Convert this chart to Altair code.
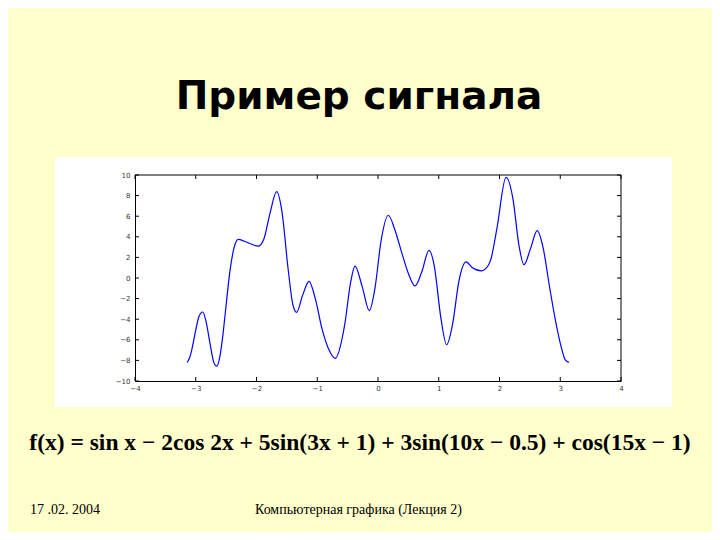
import altair as alt
import pandas as pd

# Signal values (x, f(x))
xs = [-3.1416, -3.10, -3.07, -3.00, -2.95, -2.886, -2.83, -2.77, -2.70, -2.655,
      -2.60, -2.55, -2.50, -2.436, -2.37, -2.30, -2.20, -2.10, -1.97, -1.88,
      -1.78, -1.668, -1.58, -1.48, -1.40, -1.34, -1.24, -1.136, -1.03, -0.92,
      -0.80, -0.705, -0.55, -0.45, -0.379, -0.26, -0.143, -0.05, 0.05, 0.17,
      0.28, 0.40, 0.50, 0.609, 0.72, 0.84, 0.93, 1.03, 1.13, 1.23,
      1.33, 1.449, 1.55, 1.70, 1.76, 1.86, 1.96, 2.107, 2.22, 2.32,
      2.403, 2.51, 2.62, 2.72, 2.82, 2.92, 3.02, 3.08, 3.1416]
ys = [-8.19, -7.72, -7.09, -5.06, -3.79, -3.30, -4.24, -6.20, -8.24, -8.56,
      -7.53, -5.37, -2.62, 0.71, 2.93, 3.75, 3.57, 3.33, 3.10, 3.76,
      6.23, 8.38, 6.40, 0.90, -2.62, -3.33, -1.66, -0.33, -2.05, -4.97,
      -7.07, -7.80, -4.60, -0.41, 1.15, -0.84, -3.17, -0.99, 3.59, 6.09,
      4.64, 2.27, 0.44, -0.77, 0.59, 2.69, 1.04, -3.67, -6.48, -4.41,
      -0.37, 1.56, 1.02, 0.69, 0.84, 1.86, 4.90, 9.77, 7.74, 3.17,
      1.29, 2.85, 4.60, 2.88, -0.73, -4.09, -6.80, -7.93, -8.19]

x_ticks = [-4, -3, -2, -1, 0, 1, 2, 3, 4]
y_ticks = [-10, -8, -6, -4, -2, 0, 2, 4, 6, 8, 10]

title_text = ["Пример сигнала"]
formula_text = ["f(x) = sin x − 2cos 2x + 5sin(3x + 1) + 3sin(10x − 0.5) + cos(15x − 1)"]
date_text = ["17 .02. 2004"]
footer_text = ["Компьютерная графика (Лекция 2)"]

W, H = 486, 206
SERIF = "Times New Roman, Liberation Serif, serif"

df = pd.DataFrame({"x": xs, "y": ys})
xscale = alt.Scale(domain=[-4, 4], nice=False, zero=False)
yscale = alt.Scale(domain=[-10, 10], nice=False, zero=False)
one = pd.DataFrame({"a": [0]})

axis_common = dict(ticks=False, domain=True, domainColor="black", grid=False,
                   labelFontSize=7, labelColor="#333", labelFont="DejaVu Sans",
                   title=None, zindex=2, format="d", labelOverlap=False,
                   labelFlush=False, labelBound=False)
x_axis = alt.Axis(values=x_ticks, tickCount=9, labelPadding=3, **axis_common)
y_axis = alt.Axis(values=y_ticks, tickCount=11, labelPadding=5, **axis_common)

box = alt.Chart(one).mark_rect(color="white").encode(
    x=alt.value(-80), x2=alt.value(537), y=alt.value(-18), y2=alt.value(232))

line = alt.Chart(df).mark_line(color="#0000ff", strokeWidth=1.2, interpolate="monotone").encode(
    x=alt.X("x:Q", scale=xscale, title=None, axis=x_axis),
    y=alt.Y("y:Q", scale=yscale, title=None, axis=y_axis),
)

top_edge = alt.Chart(one).mark_rule(color="black").encode(
    x=alt.value(0), x2=alt.value(W), y=alt.value(0))
right_edge = alt.Chart(one).mark_rule(color="black").encode(
    x=alt.value(W), y=alt.value(0), y2=alt.value(H))

xt = pd.DataFrame({"x": x_ticks})
yt = pd.DataFrame({"y": y_ticks})
xt_bot = alt.Chart(xt).mark_rule(color="black").encode(
    x=alt.X("x:Q", scale=xscale, title=None, axis=x_axis), y=alt.value(H), y2=alt.value(H - 4))
xt_top = alt.Chart(xt).mark_rule(color="black").encode(
    x=alt.X("x:Q", scale=xscale, title=None, axis=x_axis), y=alt.value(0), y2=alt.value(4))
yt_left = alt.Chart(yt).mark_rule(color="black").encode(
    y=alt.Y("y:Q", scale=yscale, title=None, axis=y_axis), x=alt.value(0), x2=alt.value(4))
yt_right = alt.Chart(yt).mark_rule(color="black").encode(
    y=alt.Y("y:Q", scale=yscale, title=None, axis=y_axis), x=alt.value(W - 4), x2=alt.value(W))

title = alt.Chart(pd.DataFrame({"t": title_text})).mark_text(
    font="DejaVu Sans", fontWeight="bold", fontSize=39, color="black",
    align="center", baseline="middle").encode(
    text="t:N", x=alt.value(224), y=alt.value(-78))

formula = alt.Chart(pd.DataFrame({"t": formula_text})).mark_text(
    font=SERIF, fontWeight="bold", fontSize=23.5, color="black",
    align="center", baseline="middle").encode(
    text="t:N", x=alt.value(225), y=alt.value(268))

date = alt.Chart(pd.DataFrame({"t": date_text})).mark_text(
    font=SERIF, fontSize=14, color="black",
    align="left", baseline="middle").encode(
    text="t:N", x=alt.value(-105), y=alt.value(335))

footer = alt.Chart(pd.DataFrame({"t": footer_text})).mark_text(
    font=SERIF, fontSize=14, color="black",
    align="left", baseline="middle").encode(
    text="t:N", x=alt.value(120), y=alt.value(335))

chart = alt.layer(
    box, line, top_edge, right_edge, xt_bot, xt_top, yt_left, yt_right,
    title, formula, date, footer
).properties(
    width=W, height=H,
    background="#FFFFCC",
    padding={"left": 127, "top": 167, "right": 91, "bottom": 151},
    autosize=alt.AutoSizeParams(type="none"),
).configure_view(stroke=None)

chart.save("out.html", embed_options={"renderer": "svg", "actions": False})
